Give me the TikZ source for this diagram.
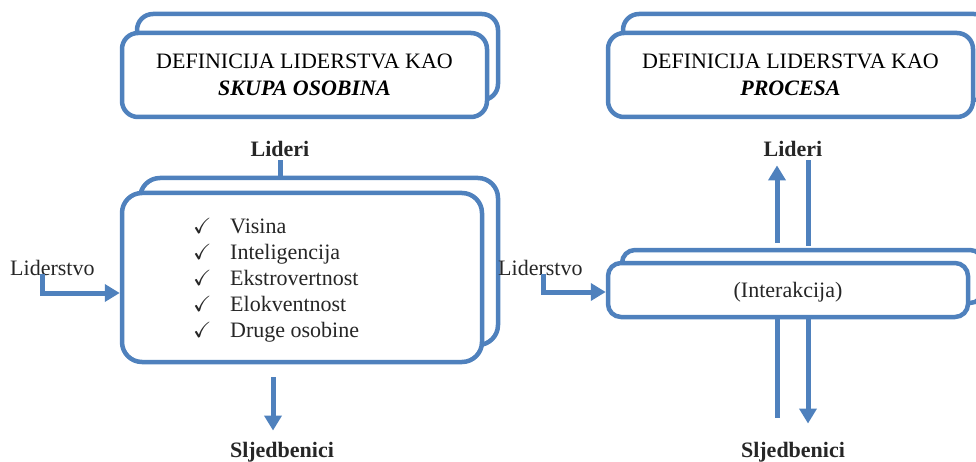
\documentclass[tikz,border=0pt]{standalone}
\usepackage{fontspec}
\setmainfont{Liberation Serif}
\usepackage{amssymb}
\usetikzlibrary{arrows.meta,calc}
\definecolor{lidblue}{RGB}{79,129,189}
\tikzset{
  panel/.style={draw=lidblue,line width=4.5pt,fill=white,rounded corners=#1,inner sep=0pt},
  panel/.default=16pt,
  flow/.style={draw=lidblue,line width=5pt,-{Triangle[width=17pt,length=15pt]}},
  flowline/.style={draw=lidblue,line width=5pt},
  label/.style={inner sep=3pt,text=black!85}
}
\begin{document}
\begin{tikzpicture}[x=1pt,y=-1pt,every node/.style={font=\fontsize{22}{26}\selectfont}]
\clip (0,0) rectangle (976,462);
% naslovi
\node[panel,minimum width=361pt,minimum height=86pt] (titleLb) at (317.5,57) {};
\node[panel,minimum width=365pt,minimum height=84pt,align=center,
      font=\fontsize{22}{27}\selectfont] (titleL) at (304.5,75)
  {DEFINICIJA LIDERSTVA KAO\\\textbf{\textit{SKUPA OSOBINA}}};
\node[panel,minimum width=367pt,minimum height=86pt] (titleRb) at (806.5,57) {};
\node[panel,minimum width=365pt,minimum height=84pt,align=center,
      font=\fontsize{22}{27}\selectfont] (titleR) at (790.5,75)
  {DEFINICIJA LIDERSTVA KAO\\\textbf{\textit{PROCESA}}};
% lijevo: skup osobina
\node[panel=20pt,minimum width=358pt,minimum height=167pt] (backL) at (319,261.5) {};
\node[panel=20pt,minimum width=360pt,minimum height=169pt] (frontL) at (302,277.5) {};
\node[label,anchor=west,align=left,inner sep=0pt] (traits) at (193,280)
  {\makebox[37pt][l]{\checkmark}Visina\\
   \makebox[37pt][l]{\checkmark}Inteligencija\\
   \makebox[37pt][l]{\checkmark}Ekstrovertnost\\
   \makebox[37pt][l]{\checkmark}Elokventnost\\
   \makebox[37pt][l]{\checkmark}Druge osobine};
\node[label,anchor=base] (lideriL) at (280,157) {\textbf{Lideri}};
\node[label,anchor=base] (sljL) at (282,457) {\textbf{Sljedbenici}};
\node[label,anchor=base west,inner sep=0pt] (lsL) at (10,275) {Liderstvo};
\coordinate (inL) at (42,274);
\coordinate (dnL) at (273,0);
\draw[flowline] (lideriL.south) -- (backL.north -| lideriL);
\draw[flow] (inL) |- ([yshift=-15.5pt]frontL.west);
\draw[flow,shorten <=13pt,shorten >=8pt] (frontL.south -| dnL) -- (sljL.north -| dnL);
% desno: proces
\node[panel=13pt,minimum width=361pt,minimum height=53pt] (backR) at (802.5,276.5) {};
\node[panel=13pt,minimum width=360pt,minimum height=54pt] (frontR) at (788,290) {};
\node[label,anchor=base] (interakcija) at (788,297) {(Interakcija)};
\node[label,anchor=base] (lideriR) at (793,157) {\textbf{Lideri}};
\node[label,anchor=base] (sljR) at (793,457) {\textbf{Sljedbenici}};
\node[label,anchor=base west,inner sep=0pt] (lsR) at (498,275) {Liderstvo};
\coordinate (inR) at (543,274);
\coordinate (upR) at (777,0);
\coordinate (dnR) at (808,0);
\draw[flow] (inR) |- ([yshift=-2pt]frontR.west);
\draw[flow,shorten <=5pt,shorten >=5pt] (backR.north -| upR) -- (lideriR.south -| upR);
\draw[flowline,shorten >=2pt] (lideriR.south -| dnR) -- (backR.north -| dnR);
\draw[flowline,shorten >=21pt] (frontR.south -| upR) -- (sljR.north -| upR);
\draw[flow,shorten >=15pt] (frontR.south -| dnR) -- (sljR.north -| dnR);
\end{tikzpicture}
\end{document}
